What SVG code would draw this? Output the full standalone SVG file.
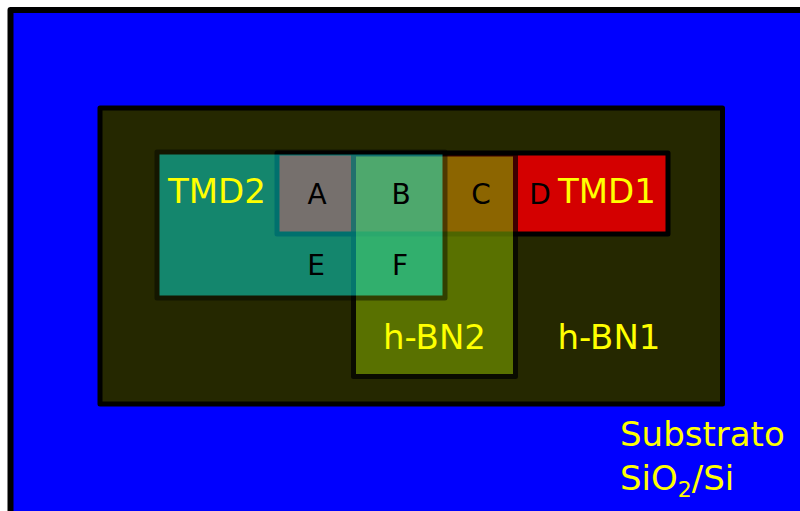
<svg xmlns="http://www.w3.org/2000/svg" width="800" height="511" viewBox="0 0 800 511">
  <style>
    .layer { stroke: #000000; stroke-linejoin: round; }
    .name { font-family: "DejaVu Sans", Verdana, sans-serif; font-size: 34px; fill: #ffff00; }
    .zone { font-family: "DejaVu Sans", Verdana, sans-serif; font-size: 28px; fill: #000000; text-anchor: middle; }
  </style>
  <rect x="0" y="0" width="800" height="511" fill="#ffffff"/>

  <!-- SiO2/Si substrate -->
  <g id="substrate">
    <rect class="layer" x="10.5" y="10" width="820" height="530" fill="#0000ff" stroke-width="6"/>
    <text class="name" x="620" y="446">Substrato</text>
    <text class="name" x="620" y="490">SiO<tspan font-size="22" dy="7">2</tspan><tspan dy="-7">/Si</tspan></text>
  </g>

  <!-- bottom hexagonal boron nitride flake -->
  <g id="hbn1">
    <rect class="layer" x="100" y="108" width="622.5" height="296" fill="#252800" stroke-width="5"/>
    <text class="name" x="609" y="349" text-anchor="middle">h-BN1</text>
  </g>

  <!-- first transition-metal dichalcogenide flake -->
  <g id="tmd1">
    <rect class="layer" x="277" y="153" width="391" height="81" fill="#d40000" stroke-width="5"/>
    <text class="name" x="558" y="203">TMD1</text>
  </g>

  <!-- top hexagonal boron nitride flake (semi-transparent) -->
  <g id="hbn2">
    <rect class="layer" x="353.5" y="154" width="162" height="222.5" fill="#6f8f00" stroke-width="5" opacity="0.71"/>
    <text class="name" x="434.5" y="349" text-anchor="middle">h-BN2</text>
  </g>

  <!-- second transition-metal dichalcogenide flake (semi-transparent) -->
  <g id="tmd2">
    <rect class="layer" x="157" y="152" width="288" height="146" fill="#00fff8" stroke-width="5" opacity="0.44"/>
    <text class="name" x="168" y="203">TMD2</text>
  </g>

  <!-- overlap zones -->
  <g id="zones">
    <text class="zone" x="317" y="204">A</text>
    <text class="zone" x="401" y="204">B</text>
    <text class="zone" x="481" y="204">C</text>
    <text class="zone" x="540" y="204">D</text>
    <text class="zone" x="316" y="275">E</text>
    <text class="zone" x="400" y="275">F</text>
  </g>
</svg>
